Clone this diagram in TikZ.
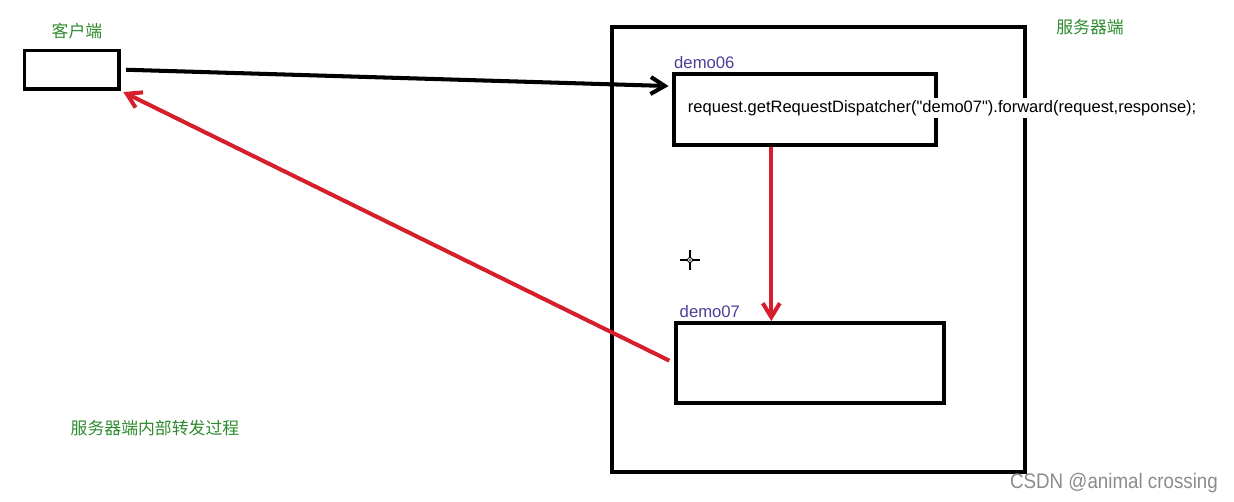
\documentclass[tikz,border=0pt]{standalone}
\usepackage{fontspec}
\setmainfont{Liberation Sans}
\newfontfamily\codefont[Ligatures=TeXOff]{Liberation Sans}
\newfontfamily\cjk{Noto Sans CJK SC}
\usetikzlibrary{arrows.meta,positioning,calc}
\definecolor{note}{HTML}{2E8B2E}
\definecolor{servlet}{HTML}{4A3F99}
\definecolor{fwd}{HTML}{D61F2C}
\definecolor{wmark}{HTML}{8C8C8C}

\begin{document}
\begin{tikzpicture}[
  x=0.02cm, y=-0.02cm,
  box/.style={draw, line width=2.2pt, inner sep=0pt},
  tag/.style={font=\cjk\fontsize{9.6}{11}\selectfont, text=note},
  lbl/.style={font=\fontsize{9.5}{11}\selectfont, text=servlet, inner sep=1pt},
  conn/.style={-{Straight Barb[length=2.8mm, width=3.4mm]}, line width=2.3pt}
]
  \useasboundingbox (0,0) rectangle (1234,502);

  \node[box, minimum width=1.89cm, minimum height=0.77cm] (client) at (71.75,69.75) {};
  \node[box, minimum width=8.26cm, minimum height=8.9cm] (server) at (818.5,249.5) {};
  \node[box, minimum width=5.24cm, minimum height=1.42cm] (d06) at (805,109.5) {};
  \node[box, minimum width=5.36cm, minimum height=1.6cm] (d07) at (810,363) {};

  \node[tag] (clientlbl) at (77,31) {客户端};
  \node[tag] (serverlbl) at (1090,27) {服务器端};
  \node[tag] (desc) at (155,428) {服务器端内部转发过程};
  \node[lbl, anchor=south west] (d06lbl) at ([yshift=1pt]d06.north west) {demo06};
  \node[lbl, anchor=south west] (d07lbl) at ([xshift=2pt,yshift=1pt]d07.north west) {demo07};

  \node[fill=white, inner sep=1.5pt, anchor=west, font=\codefont\fontsize{9.4}{11}\selectfont] (call) at (685,108)
    {request.getRequestDispatcher("demo07").forward(request,response);};

  \draw[conn] ([xshift=3pt]client.east) -- ([xshift=-2pt]d06.170);
  \draw[conn, fwd] (d06.228) -- (d06.228 |- d07.north);
  \draw[conn, fwd, shorten <=3pt, shorten >=1.5pt] (d07.west) -- (client.south east);

  % cursor
  \draw[line width=0.6pt] (680,260) -- (700,260) (690,250) -- (690,270);
  \draw[line width=0.5pt, fill=white] (690,260) circle (2.5);
  \fill (690,260) circle (0.8);

  \node[font=\fontsize{12}{14}\selectfont, text=wmark, xscale=0.89] (csdn) at (1114,483) {CSDN @animal crossing};
\end{tikzpicture}
\end{document}
